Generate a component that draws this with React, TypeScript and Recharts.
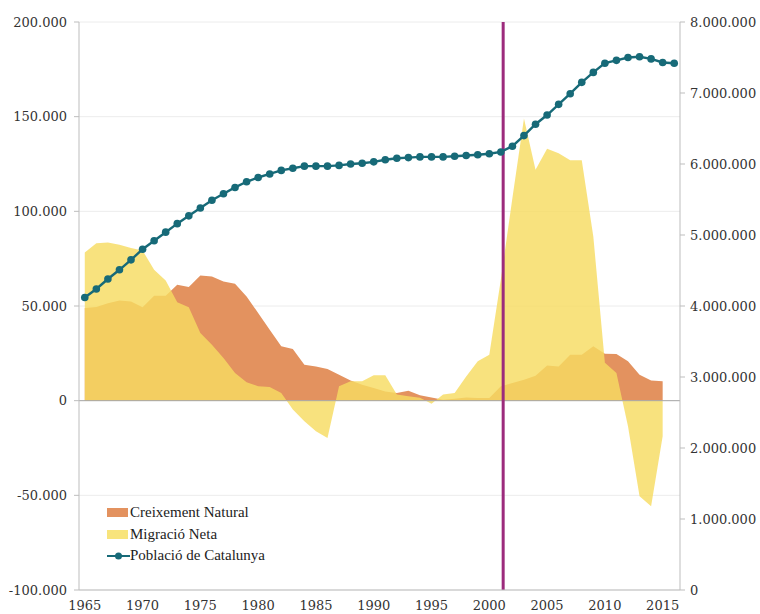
import React from 'react';
import {
  ComposedChart, Area, Line, XAxis, YAxis, CartesianGrid, ReferenceLine,
} from 'recharts';

const years: number[] = [
  1965, 1966, 1967, 1968, 1969, 1970, 1971, 1972, 1973, 1974,
  1975, 1976, 1977, 1978, 1979, 1980, 1981, 1982, 1983, 1984,
  1985, 1986, 1987, 1988, 1989, 1990, 1991, 1992, 1993, 1994,
  1995, 1996, 1997, 1998, 1999, 2000, 2001, 2002, 2003, 2004,
  2005, 2006, 2007, 2008, 2009, 2010, 2011, 2012, 2013, 2014,
  2015, 2016,
];

// Creixement Natural (1965-2015)
const naturalGrowth: (number | null)[] = [
  49000, 49500, 51500, 52900, 52400, 49400, 55400, 55400, 61200, 60000,
  66100, 65600, 63000, 61700, 55000, 46300, 37500, 28700, 27300, 19000,
  18100, 16700, 13700, 10700, 8400, 6700, 4900, 4000, 5300, 2800,
  1700, 500, 1000, 1700, 1400, 1400, 7600, 9300, 11000, 13200,
  18600, 18000, 24300, 24300, 28700, 24800, 24600, 20800, 13700, 10700,
  10200, null,
];

// Migració Neta (1965-2015)
const netMigration: (number | null)[] = [
  78300, 83200, 83500, 82300, 80600, 79300, 69100, 63500, 52000, 49400,
  35700, 29500, 22500, 14600, 9700, 7600, 7200, 4000, -4700, -10900,
  -16200, -19700, 7600, 10200, 10200, 13400, 13400, 3200, 2300, 1600,
  -1600, 3200, 4000, 12800, 20800, 24300, 64000, 107000, 149000, 122000,
  133000, 130700, 127000, 127000, 86700, 20000, 14600, -13500, -50500, -55800,
  -18800, null,
];

// Població de Catalunya (1965-2016)
const population: number[] = [
  4120000, 4240000, 4380000, 4510000, 4650000, 4800000, 4920000, 5040000, 5160000, 5270000,
  5380000, 5490000, 5580000, 5670000, 5750000, 5810000, 5860000, 5910000, 5940000, 5970000,
  5970000, 5970000, 5980000, 6000000, 6010000, 6030000, 6060000, 6080000, 6090000, 6100000,
  6100000, 6100000, 6110000, 6120000, 6130000, 6145000, 6170000, 6250000, 6400000, 6560000,
  6690000, 6840000, 6990000, 7150000, 7290000, 7420000, 7460000, 7500000, 7510000, 7480000,
  7430000, 7420000,
];

const seriesNames = ['Creixement Natural', 'Migració Neta', 'Població de Catalunya'];
const xTicks: number[] = [1965, 1970, 1975, 1980, 1985, 1990, 1995, 2000, 2005, 2010, 2015];
const leftTicks: number[] = [-100000, -50000, 0, 50000, 100000, 150000, 200000];
const rightTicks: number[] = [0, 1000000, 2000000, 3000000, 4000000, 5000000, 6000000, 7000000, 8000000];
const markerYear = 2001.2;

const data = years.map((y, i) => ({
  year: y,
  natural: naturalGrowth[i],
  migration: netMigration[i],
  population: population[i],
}));

const fmt = (v: number) => {
  const s = Math.abs(Math.round(v)).toString().replace(/\B(?=(\d{3})+(?!\d))/g, '.');
  return (v < 0 ? '-' : '') + s;
};

const ORANGE = '#e3925f';
const YELLOW = '#f6dc62';
const TEAL = '#176a78';
const PURPLE = '#9c2b7c';
const FONT = '"DejaVu Serif", serif';

const LegendBox = () => (
  <div
    style={{
      position: 'absolute', left: 107, top: 502, width: 220,
      fontFamily: '"Liberation Serif", serif', fontSize: 15, color: '#222', lineHeight: '21.5px',
    }}
  >
    <div style={{ display: 'flex', alignItems: 'center' }}>
      <span style={{ display: 'inline-block', width: 21, height: 9, background: ORANGE, marginRight: 2 }} />
      {seriesNames[0]}
    </div>
    <div style={{ display: 'flex', alignItems: 'center' }}>
      <span style={{ display: 'inline-block', width: 21, height: 9, background: '#f8e47c', marginRight: 2 }} />
      {seriesNames[1]}
    </div>
    <div style={{ display: 'flex', alignItems: 'center' }}>
      <svg width={23} height={10}>
        <line x1={0} y1={5} x2={23} y2={5} stroke={TEAL} strokeWidth={2} />
        <circle cx={11.5} cy={5} r={3.5} fill={TEAL} />
      </svg>
      {seriesNames[2]}
    </div>
  </div>
);

export default function App() {
  return (
    <div style={{ position: 'absolute', left: 0, top: 0, width: 760, height: 614, background: '#fff' }}>
      <ComposedChart
        width={760}
        height={614}
        data={data}
        margin={{ top: 22, right: 0, bottom: 0, left: 0 }}
      >
        <CartesianGrid yAxisId="left" horizontal vertical={false} stroke="#ececec" />
        <XAxis
          dataKey="year"
          type="number"
          domain={[1964.5, 2016.5]}
          ticks={xTicks}
          interval={0}
          height={24}
          tickLine={false}
          tickSize={0}
          tickMargin={11}
          axisLine={{ stroke: '#bdbdbd' }}
          tick={{ fontFamily: FONT, fontSize: 13, fill: '#333' }}
        />
        <YAxis
          yAxisId="left"
          orientation="left"
          width={79}
          domain={[-100000, 200000]}
          ticks={leftTicks}
          interval={0}
          tickFormatter={fmt}
          tickSize={5}
          tickMargin={7}
          axisLine={{ stroke: '#bdbdbd' }}
          tickLine={{ stroke: '#bdbdbd' }}
          tick={{ fontFamily: FONT, fontSize: 13, fill: '#333' }}
        />
        <YAxis
          yAxisId="right"
          orientation="right"
          width={80}
          domain={[0, 8000000]}
          ticks={rightTicks}
          interval={0}
          tickFormatter={fmt}
          tickSize={5}
          tickMargin={5}
          axisLine={{ stroke: '#bdbdbd' }}
          tickLine={{ stroke: '#bdbdbd' }}
          tick={{ fontFamily: FONT, fontSize: 13, fill: '#333' }}
        />
        <ReferenceLine yAxisId="left" y={0} stroke="#a8a8a8" strokeWidth={1} />
        <Area
          yAxisId="left"
          type="linear"
          dataKey="natural"
          name={seriesNames[0]}
          baseValue={0}
          stroke="none"
          fill={ORANGE}
          fillOpacity={1}
          isAnimationActive={false}
        />
        <Area
          yAxisId="left"
          type="linear"
          dataKey="migration"
          name={seriesNames[1]}
          baseValue={0}
          stroke="none"
          fill={YELLOW}
          fillOpacity={0.82}
          isAnimationActive={false}
        />
        <ReferenceLine yAxisId="left" x={markerYear} stroke={PURPLE} strokeWidth={3} />
        <Line
          yAxisId="right"
          type="linear"
          dataKey="population"
          name={seriesNames[2]}
          stroke={TEAL}
          strokeWidth={2.4}
          dot={{ r: 3.8, fill: TEAL, stroke: TEAL, strokeWidth: 0 }}
          isAnimationActive={false}
        />
      </ComposedChart>
      <LegendBox />
    </div>
  );
}
